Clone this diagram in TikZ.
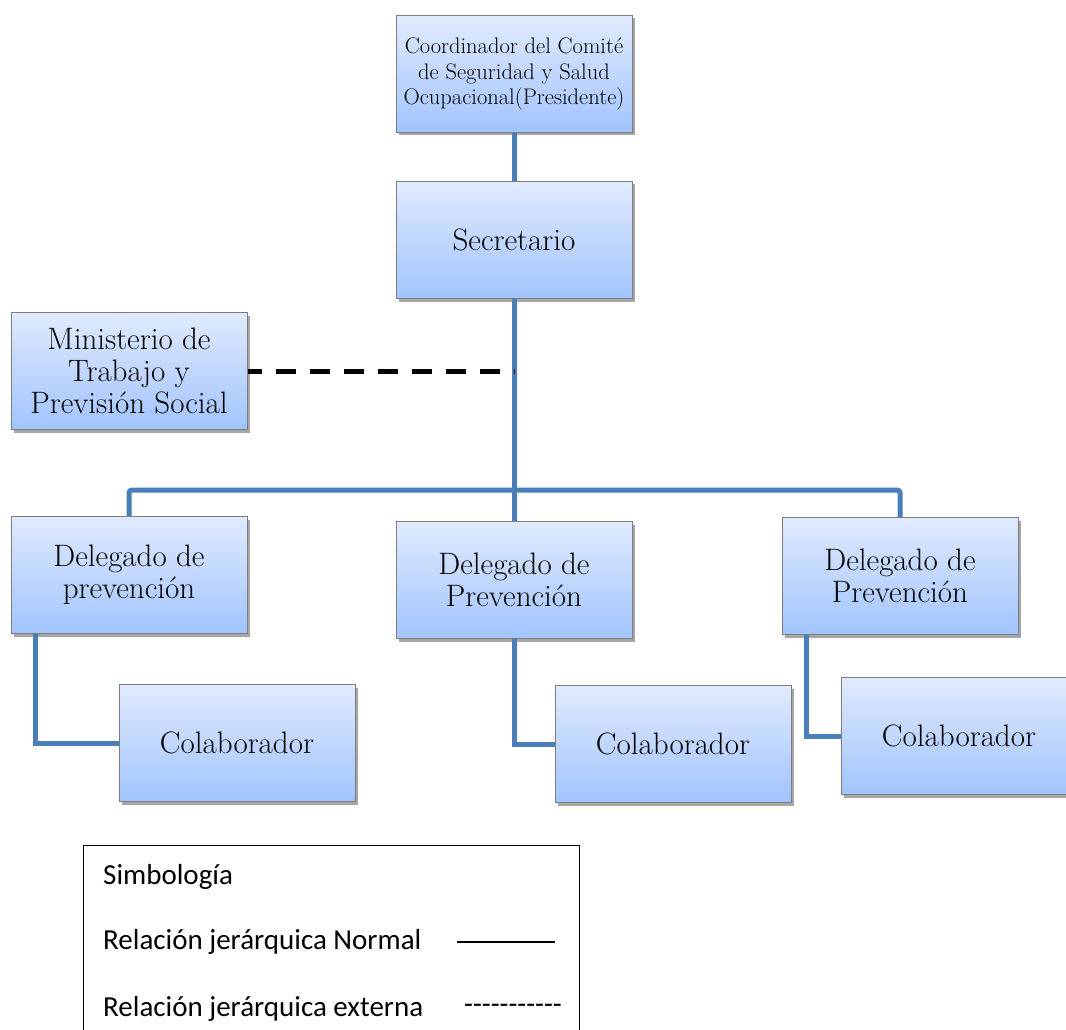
\documentclass[tikz,border=0pt]{standalone}
\usepackage{fontspec}
\newfontfamily\legendfont{Carlito}
\usetikzlibrary{shadows}
\definecolor{boxtop}{RGB}{224,234,252}
\definecolor{boxbottom}{RGB}{161,196,255}
\definecolor{boxedge}{RGB}{125,125,125}
\definecolor{linkblue}{RGB}{74,126,187}

\begin{document}
\begin{tikzpicture}[x=1pt, y=-1pt,
        unit/.style={rectangle, draw=boxedge, line width=1pt, top color=boxtop, bottom color=boxbottom, minimum width=236pt, minimum height=117pt, align=center, font=\fontsize{31}{32}\selectfont, drop shadow={shadow xshift=3pt, shadow yshift=-3pt, opacity=0.35, fill=black}},
        relation/.style={draw=linkblue, line width=5pt},
        external/.style={draw=black, line width=5pt, dash pattern=on 20pt off 14pt, dash phase=6pt},
        legtext/.style={anchor=west, inner sep=0pt, font=\legendfont\fontsize{29}{34}\selectfont}
    ]
        \useasboundingbox (0,0) rectangle (1066,1030);
        \clip (0,0) rectangle (1066,1030);

        % Units
        \node[unit, font=\fontsize{22.5}{25.5}\selectfont] (coord) at (514,74) {Coordinador del Comité\\de Seguridad y Salud\\Ocupacional(Presidente)};
        \node[unit] (secr) at (514,240) {Secretario};
        \node[unit] (min) at (129,371) {Ministerio de\\Trabajo y\\Previsión Social};
        \node[unit] (del1) at (129,575) {Delegado de\\prevención};
        \node[unit] (del2) at (514,580) {Delegado de\\Prevención};
        \node[unit] (del3) at (900,576) {Delegado de\\Prevención};
        \node[unit] (col1) at (237,743) {Colaborador};
        \node[unit] (col2) at (673,744) {Colaborador};
        \node[unit] (col3) at (959,736) {Colaborador};

        % Relations
        \coordinate (bus) at (514,490);
        \draw[relation] (coord) -- (secr);
        \draw[relation] (secr) -- (del2);
        \draw[relation, rounded corners=3pt] (del1.north) |- (bus) -| (del3.north);
        \draw[external] (min.east) -- (min.east -| secr.south);
        \draw[relation] ([xshift=-94pt]del1.south) |- (col1.west);
        \draw[relation] (del2.south) |- (col2.west);
        \draw[relation] ([xshift=-94pt]del3.south) |- (col3.west);

        % Legend
        \draw[black, line width=1pt] (83,1060) rectangle (579,845);
        \node[legtext] (symb) at (103,877) {Simbología};
        \node[legtext] (normal) at (103,942) {Relación jerárquica Normal};
        \node[legtext] (extern) at (103,1009) {Relación jerárquica externa};
        \coordinate (solidA) at (457,942);
        \coordinate (solidB) at (555,942);
        \draw[black, line width=1.2pt] (solidA) -- (solidB);
        \node[legtext] (dashes) at (464,1009) {-{}-{}-{}-{}-{}-{}-{}-{}-{}-{}-};
\end{tikzpicture}
\end{document}
